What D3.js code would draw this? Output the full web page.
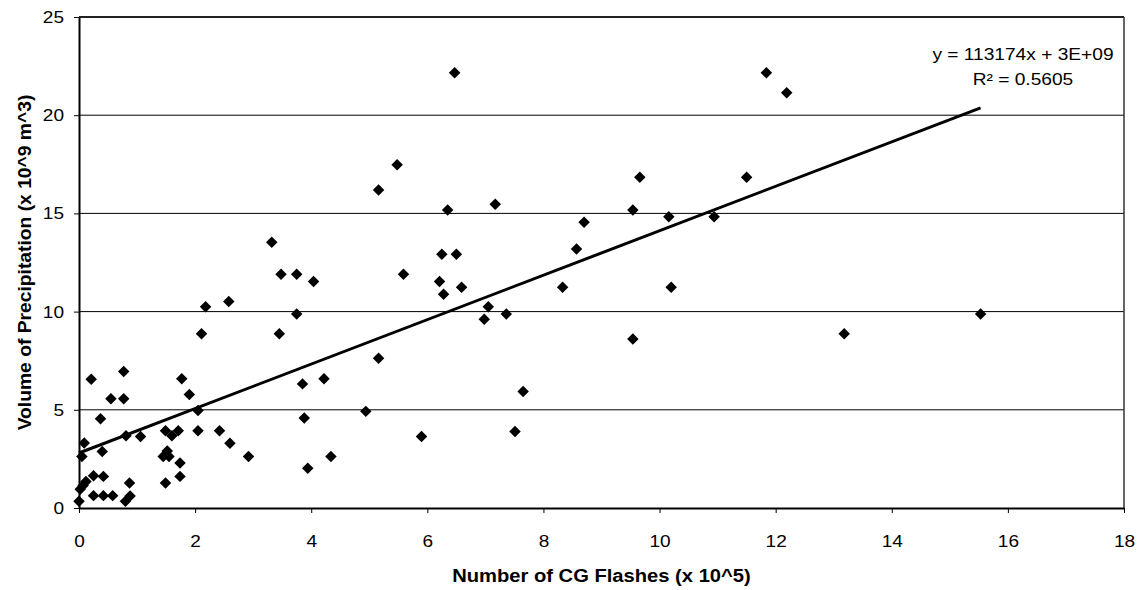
<!DOCTYPE html>
<html>
<head>
<meta charset="utf-8">
<script src="https://cdn.jsdelivr.net/npm/d3@7"></script>
<style>
  body { margin: 0; background: #fff; }
  svg { display: block; font-family: "Liberation Sans", Arial, sans-serif; }
</style>
</head>
<body>
<svg id="chart" width="1139" height="590"></svg>
<script>
// CG flashes (x 10^5) vs precipitation volume (x 10^9 m^3)
const flashes = [
  0.00, 0.02, 0.07, 0.12, 0.05, 0.09, 0.21, 0.25, 0.42, 0.25,
  0.42, 0.58, 0.40, 0.37, 0.55, 0.77, 0.77, 0.81, 0.80, 0.88,
  0.87, 1.06, 1.45, 1.52, 1.55, 1.49, 1.60, 1.71, 1.49, 1.74,
  1.74, 1.77, 1.90, 2.05, 2.05, 2.11, 2.18, 2.42, 2.58, 2.60,
  2.92, 3.32, 3.45, 3.48, 3.75, 3.75, 3.85, 3.88, 3.94, 4.04,
  4.22, 4.34, 4.94, 5.16, 5.16, 5.48, 5.59, 5.90, 6.21, 6.25,
  6.28, 6.35, 6.47, 6.50, 6.59, 6.98, 7.05, 7.17, 7.36, 7.51,
  7.65, 8.33, 8.57, 8.70, 9.54, 9.54, 9.66, 10.16, 10.20, 10.94,
  11.50, 11.84, 12.19, 13.18, 15.53
]
const volume = [
  0.34, 0.95, 1.15, 1.35, 2.62, 3.31, 6.56, 1.64, 1.61, 0.63,
  0.63, 0.63, 2.88, 4.54, 5.56, 5.56, 6.95, 3.68, 0.34, 0.61,
  1.27, 3.64, 2.62, 2.90, 2.62, 3.93, 3.68, 3.93, 1.27, 2.29,
  1.61, 6.58, 5.78, 4.96, 3.93, 8.87, 10.25, 3.93, 10.51, 3.30,
  2.62, 13.53, 8.87, 11.90, 11.90, 9.88, 6.32, 4.58, 2.03, 11.53,
  6.58, 2.62, 4.92, 16.19, 7.62, 17.48, 11.90, 3.64, 11.53, 12.92,
  10.88, 15.17, 22.16, 12.92, 11.24, 9.61, 10.25, 15.46, 9.88, 3.90,
  5.93, 11.24, 13.19, 14.55, 15.17, 8.60, 16.84, 14.83, 11.24, 14.83,
  16.84, 22.16, 21.14, 8.87, 9.88
]
const xTicks = [0, 2, 4, 6, 8, 10, 12, 14, 16, 18]
const yTicks = [0, 5, 10, 15, 20, 25]
const trendSlope = 1.13174
const trendIntercept = 2.8
const trendLabel = ["y = 113174x + 3E+09", "R² = 0.5605"]

const data = flashes.map((x, i) => ({ x: x, y: volume[i] }))

const svg = d3.select("#chart")
const margin = { top: 17, right: 15, bottom: 82, left: 79 }
const width = 1139 - margin.left - margin.right
const height = 590 - margin.top - margin.bottom

const xScale = d3.scaleLinear().domain([0, 18]).range([0, width])
const yScale = d3.scaleLinear().domain([0, 25]).range([height, 0])

// the original text is drawn a bit wider than plain Arial
function stretch(sel, k) {
  sel.each(function () {
    const w = this.getComputedTextLength()
    d3.select(this).attr("textLength", w * k).attr("lengthAdjust", "spacingAndGlyphs")
  })
}

const g = svg.append("g").attr("transform", `translate(${margin.left},${margin.top})`)

// gridlines
g.selectAll(".grid")
  .data(yTicks.filter((d) => d > 0 && d < 25))
  .enter()
  .append("line")
  .attr("class", "grid")
  .attr("x1", 0)
  .attr("x2", width)
  .attr("y1", (d) => yScale(d))
  .attr("y2", (d) => yScale(d))
  .attr("stroke", "#000")
  .attr("stroke-width", 1)

// top and right frame
g.append("line").attr("x1", 0).attr("x2", width).attr("y1", 0).attr("y2", 0)
  .attr("stroke", "#222").attr("stroke-width", 2)
g.append("line").attr("x1", width).attr("x2", width).attr("y1", 0).attr("y2", height)
  .attr("stroke", "#333").attr("stroke-width", 1.5)

// axes
const xAxis = d3.axisBottom(xScale).tickValues(xTicks).tickSize(5).tickPadding(22).tickSizeOuter(0)
const yAxis = d3.axisLeft(yScale).tickValues(yTicks).tickSize(5).tickPadding(10).tickSizeOuter(0)

const gx = g.append("g").attr("transform", `translate(0,${height})`).call(xAxis)
const gy = g.append("g").call(yAxis)

;[gx, gy].forEach((ax) => {
  ax.select(".domain").attr("stroke", "#000").attr("stroke-width", 2)
  ax.selectAll(".tick line").attr("stroke", "#000").attr("stroke-width", 1)
  ax.selectAll(".tick text").attr("fill", "#000").style("font-size", "17px").call(stretch, 1.12)
})

// trend line
const xMax = d3.max(data, (d) => d.x)
const trend = [0, xMax].map((x) => ({ x: x, y: trendIntercept + trendSlope * x }))
g.append("path")
  .datum(trend)
  .attr("fill", "none")
  .attr("stroke", "#000")
  .attr("stroke-width", 3)
  .attr("d", d3.line().x((d) => xScale(d.x)).y((d) => yScale(d.y)))

// points
g.selectAll(".pt")
  .data(data)
  .enter()
  .append("path")
  .attr("class", "pt")
  .attr("d", d3.symbol(d3.symbolSquare, 66))
  .attr("transform", (d) => `translate(${xScale(d.x)},${yScale(d.y)}) rotate(45)`)
  .attr("fill", "#000")

// regression label
g.selectAll(".eq")
  .data(trendLabel)
  .enter()
  .append("text")
  .attr("class", "eq")
  .attr("x", 944)
  .attr("y", (d, i) => 43 + i * 25)
  .attr("text-anchor", "middle")
  .style("font-size", "16.5px")
  .text((d) => d)
  .call(stretch, 1.16)

// axis titles
svg.append("text")
  .attr("x", margin.left + width / 2)
  .attr("y", 582)
  .attr("text-anchor", "middle")
  .style("font-size", "18px")
  .style("font-weight", "bold")
  .text("Number of CG Flashes (x 10^5)")
  .call(stretch, 1.12)

svg.append("text")
  .attr("transform", `translate(31,${margin.top + height / 2}) rotate(-90)`)
  .attr("text-anchor", "middle")
  .style("font-size", "18px")
  .style("font-weight", "bold")
  .text("Volume of Precipitation (x 10^9 m^3)")
  .call(stretch, 1.07)
</script>
</body>
</html>
